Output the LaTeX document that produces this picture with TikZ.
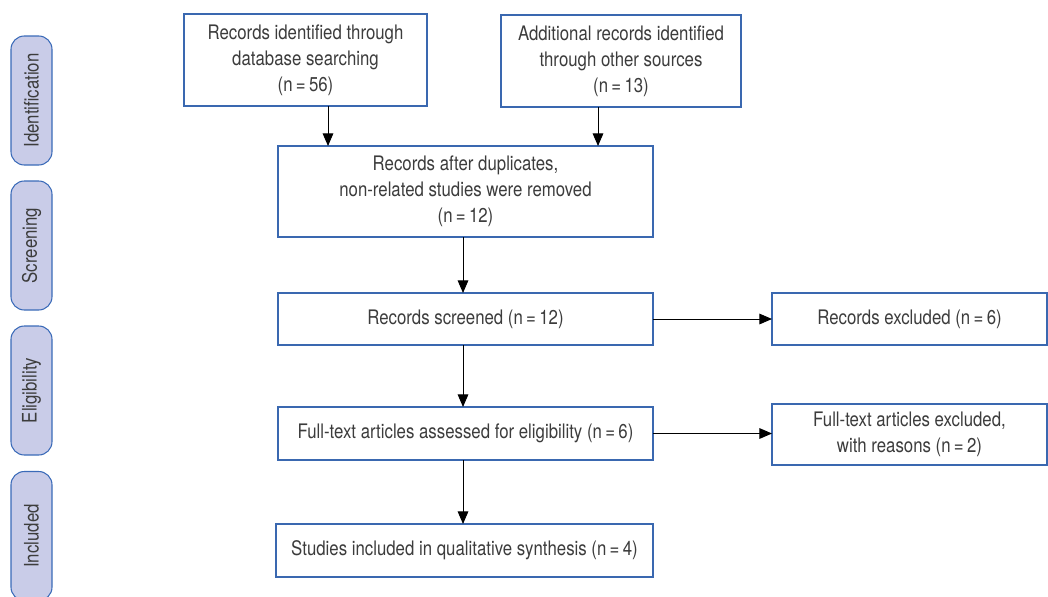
\documentclass[tikz,border=0pt]{standalone}
\usepackage{fontspec}
\setmainfont{TeX Gyre Heros}[FakeStretch=0.84]
\usetikzlibrary{arrows.meta,calc}
\definecolor{boxblue}{HTML}{3A68B0}
\definecolor{sidefill}{HTML}{C9CCE8}
\definecolor{sideline}{HTML}{3A6AB8}
\definecolor{txt}{HTML}{3C3C3C}
\begin{document}
\begin{tikzpicture}[x=0.75pt,y=-0.75pt,
  every node/.style={inner sep=0pt,outer sep=0pt,text=txt,font=\fontsize{15pt}{19.5pt}\selectfont,align=center},
  flowbox/.style={draw=boxblue,line width=0.8pt,fill=white},
  sidebox/.style={draw=sideline,fill=sidefill,line width=0.8pt,rounded corners=10pt,minimum height=30.75pt,rotate=90},
  arr/.style={draw=black,line width=0.75pt,-{Triangle[length=9.5pt,width=8pt]}}]
\useasboundingbox (0,0) rectangle (1048,596);
\clip (0,0) rectangle (1048,596);
% side labels
\node[sidebox,minimum width=96.75pt] (sid) at (31.5,100.5) {Identification};
\node[sidebox,minimum width=96.75pt] (sscr) at (31.5,245.5) {Screening};
\node[sidebox,minimum width=96.75pt] (selig) at (31.5,390.5) {Eligibility};
\node[sidebox,minimum width=96.75pt] (sinc) at (31.5,536) {Included};
% flow boxes
\node[flowbox,minimum width=182.25pt,minimum height=69pt] (b1) at (305.5,60) {Records identified through\\database searching\\(n\,=\,56)};
\node[flowbox,minimum width=180pt,minimum height=69pt] (b2) at (621,61) {Additional records identified\\through other sources\\(n\,=\,13)};
\node[flowbox,minimum width=281.25pt,minimum height=68.25pt] (b3) at (465.5,191.5) {Records after duplicates,\\non-related studies were removed\\(n\,=\,12)};
\node[flowbox,minimum width=281.25pt,minimum height=39pt] (scr) at (465.5,319) {Records screened (n\,=\,12)};
\node[flowbox,minimum width=206.25pt,minimum height=39pt] (rex) at (909.5,319) {Records excluded (n\,=\,6)};
\node[flowbox,minimum width=281.25pt,minimum height=39.75pt] (fta) at (465.5,433.5) {Full-text articles assessed for eligibility (n\,=\,6)};
\node[flowbox,minimum width=206.25pt,minimum height=45.75pt] (ftx) at (909.5,434.5) {Full-text articles excluded,\\with reasons (n\,=\,2)};
\node[flowbox,minimum width=282.75pt,minimum height=39.75pt] (inc) at (464.5,550.5) {Studies included in qualitative synthesis (n\,=\,4)};
% arrow positions
\coordinate (a1) at (328,0);
\coordinate (a2) at (598,0);
\coordinate (mx) at (463,0);
\draw[arr] (b1.south -| a1) -- (a1 |- b3.north);
\draw[arr] (b2.south -| a2) -- (a2 |- b3.north);
\draw[arr] (b3.south -| mx) -- (mx |- scr.north);
\draw[arr] (scr.south -| mx) -- (mx |- fta.north);
\draw[arr] (fta.south -| mx) -- (mx |- inc.north);
\draw[arr] (scr.east) -- (rex.west);
\draw[arr] (fta.east) -- (fta.east -| ftx.west);
\end{tikzpicture}
\end{document}
